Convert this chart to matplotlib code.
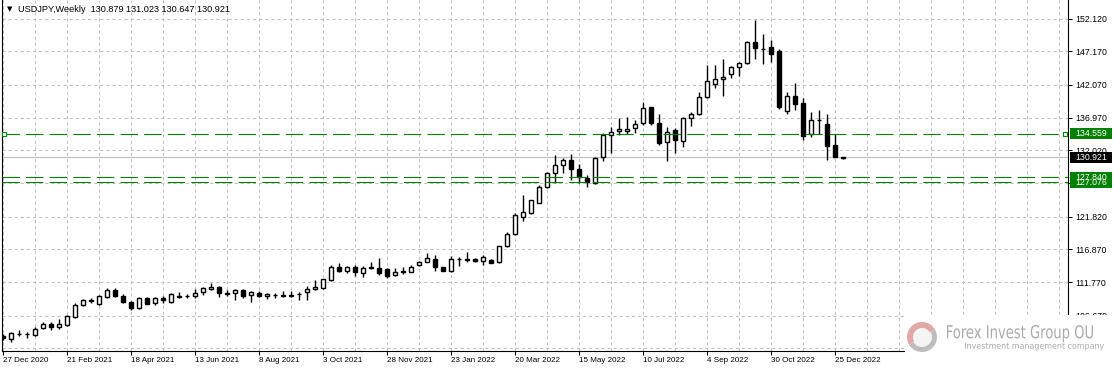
import matplotlib
matplotlib.use("Agg")
import matplotlib.pyplot as plt
from matplotlib.patches import PathPatch, Wedge, Circle, Rectangle
from matplotlib.textpath import TextPath
from matplotlib.font_manager import FontProperties
from matplotlib.transforms import Affine2D, blended_transform_factory

plt.rcParams["font.family"] = ["Liberation Sans", "DejaVu Sans"]
plt.rcParams["lines.scale_dashes"] = False

# USDJPY weekly candles, 27 Dec 2020 .. 1 Jan 2023
opens = [103.55, 103.10, 103.90, 103.80, 103.75, 104.70, 105.40, 104.90, 105.30, 106.40,
         108.30, 109.05, 108.45, 109.50, 110.60, 109.65, 108.80, 107.85, 109.30, 108.55,
         109.40, 108.80, 109.60, 109.60, 109.60, 110.25, 110.75, 111.05, 110.05, 110.10,
         110.60, 109.80, 110.20, 109.60, 109.80, 109.75, 109.70, 109.90, 110.35, 110.70,
         110.85, 112.05, 114.15, 113.55, 114.05, 113.25, 114.10, 113.90, 113.75, 112.85,
         113.50, 113.40, 114.35, 114.95, 115.40, 114.05, 113.55, 115.30, 115.25, 115.30,
         115.05, 115.20, 114.85, 117.35, 119.15, 121.85, 122.45, 123.95, 126.35, 128.45,
         129.75, 130.50, 129.20, 127.80, 126.95, 130.90, 134.35, 134.90, 134.90, 135.35,
         136.15, 138.60, 136.15, 133.20, 135.10, 133.40, 136.90, 137.55, 140.10, 142.10,
         142.85, 143.65, 144.70, 145.35, 148.55, 147.50, 147.80, 147.20, 138.05, 140.30,
         139.20, 134.50, 136.60, 136.00, 132.80, 130.879]
highs = [103.90, 104.10, 104.40, 104.10, 104.95, 105.75, 105.65, 106.20, 106.70, 108.65,
         109.25, 109.40, 109.85, 110.95, 110.95, 109.90, 108.95, 109.55, 109.45, 109.55,
         109.65, 110.20, 110.35, 109.95, 110.70, 111.10, 111.60, 111.20, 110.60, 110.70,
         110.70, 110.45, 110.45, 110.20, 110.10, 110.40, 110.45, 110.25, 111.20, 112.10,
         112.30, 114.45, 114.70, 114.30, 114.45, 114.25, 114.95, 115.45, 114.00, 113.95,
         114.15, 114.40, 115.00, 116.30, 115.95, 114.15, 115.85, 115.60, 116.35, 115.50,
         115.95, 115.30, 117.35, 119.40, 122.45, 125.15, 124.45, 126.65, 128.70, 131.25,
         130.85, 131.40, 129.85, 128.20, 131.00, 134.60, 135.60, 136.90, 137.05, 136.60,
         139.35, 138.70, 137.55, 135.55, 135.35, 137.15, 137.90, 140.95, 145.05, 145.05,
         145.95, 144.95, 145.60, 148.80, 151.95, 149.80, 148.90, 147.45, 140.95, 142.30,
         139.95, 137.80, 138.15, 137.50, 134.50, 131.023]
lows = [102.96, 102.60, 103.50, 103.30, 103.50, 104.55, 104.50, 104.60, 105.00, 106.25,
        108.20, 108.60, 108.35, 109.30, 109.55, 108.55, 107.45, 107.65, 108.40, 108.30,
        108.55, 108.65, 109.30, 109.30, 109.40, 109.80, 110.60, 109.45, 109.60, 109.05,
        109.40, 108.70, 109.55, 109.20, 109.40, 109.50, 109.55, 109.10, 109.10, 110.60,
        110.70, 111.90, 113.40, 113.25, 112.75, 112.65, 113.75, 112.95, 112.45, 112.70,
        113.10, 113.30, 114.30, 114.90, 113.50, 113.50, 113.40, 114.20, 114.90, 114.85,
        114.40, 114.65, 114.80, 117.25, 119.05, 121.20, 122.25, 123.85, 126.20, 126.95,
        128.45, 127.50, 127.05, 126.35, 126.85, 130.40, 131.55, 134.35, 134.55, 134.60,
        135.90, 135.90, 132.75, 130.40, 131.65, 132.55, 135.75, 137.45, 139.95, 141.60,
        140.35, 143.05, 143.45, 145.25, 146.00, 145.20, 145.60, 138.35, 137.60, 138.15,
        133.60, 134.10, 134.50, 130.55, 130.90, 130.647]
closes = [103.24, 103.95, 103.86, 103.77, 104.68, 105.40, 104.90, 105.42, 106.55, 108.30,
          109.05, 108.90, 109.65, 110.65, 109.65, 108.75, 107.85, 109.30, 108.45, 109.30,
          109.05, 109.90, 109.55, 109.65, 110.20, 110.95, 111.10, 110.10, 110.10, 110.60,
          109.65, 110.25, 109.60, 109.90, 109.85, 109.70, 109.85, 109.95, 110.70, 111.10,
          112.25, 114.05, 113.50, 114.05, 113.40, 113.90, 113.95, 113.15, 112.75, 113.30,
          113.30, 114.15, 114.95, 115.45, 114.15, 113.55, 115.35, 115.30, 115.35, 115.10,
          115.60, 114.70, 117.30, 119.15, 122.05, 122.50, 124.40, 126.35, 128.45, 129.75,
          130.50, 129.15, 127.85, 127.20, 130.80, 134.35, 134.85, 135.25, 135.25, 136.00,
          138.45, 136.15, 133.15, 134.85, 133.55, 136.90, 137.60, 140.10, 142.60, 142.85,
          143.30, 144.70, 145.35, 148.65, 147.75, 147.45, 146.70, 138.70, 140.25, 139.05,
          134.25, 136.60, 136.70, 132.70, 131.00, 130.921]

date_labels = ["27 Dec 2020", "21 Feb 2021", "18 Apr 2021", "13 Jun 2021", "8 Aug 2021",
               "3 Oct 2021", "28 Nov 2021", "23 Jan 2022", "20 Mar 2022", "15 May 2022",
               "10 Jul 2022", "4 Sep 2022", "30 Oct 2022", "25 Dec 2022"]
price_ticks = [152.12, 147.17, 142.07, 136.97, 132.02, 126.92, 121.82, 116.87, 111.77,
               106.67, 101.72]
level_lines = [134.559, 127.840, 127.076]
last_price = 130.921

W, H = 1114, 372
GREEN = "#008000"
GRID = "#c0c0c0"

fig = plt.figure(figsize=(W / 100, H / 100), dpi=100)
ax = fig.add_axes([1.5 / W, 21 / H, (1068 - 1.5) / W, (H - 21) / H])
pix = Affine2D().scale(1 / W, 1 / H) + fig.transFigure

idx = list(range(len(opens)))
up = [c >= o for o, c in zip(opens, closes)]

# grid
ax.set_xticks(range(0, 133, 4), minor=True)
ax.set_xticks(range(0, 8 * len(date_labels), 8))
ax.set_xticklabels(date_labels)
ax.set_yticks(price_ticks)
ax.set_yticklabels([f"{v:.3f}" for v in price_ticks])
ax.grid(True, which="both", axis="x", color=GRID, lw=0.75, linestyle=(0, (2.2, 2.2)))
ax.grid(True, which="major", axis="y", color=GRID, lw=0.75, linestyle=(0, (2.2, 2.2)))
ax.set_axisbelow(True)

# bid line
ax.axhline(last_price, color=GRID, lw=0.9, zorder=1)

# candles
ax.vlines(idx, lows, highs, color="black", lw=1.0, zorder=2)
bodies = [max(abs(c - o), 0.02) for o, c in zip(opens, closes)]
bottoms = [min(o, c) for o, c in zip(opens, closes)]
ax.bar(idx, bodies, bottom=bottoms, width=0.6,
       color=["white" if u else "black" for u in up],
       edgecolor="black", linewidth=1.0, zorder=3)

# horizontal levels
for v in level_lines:
    ax.axhline(v, color=GREEN, lw=0.8, linestyle=(0, (12.5, 4.5)), zorder=4)

xmin, xmax = -1.5 / 8, (1068 - 3) / 8
ymin, ymax = 101.24, 155.03
ax.plot([xmin + 0.3, xmax - 0.35], [level_lines[0]] * 2, ls="none", marker="s", ms=3,
        mfc="white", mec=GREEN, mew=0.8, zorder=5, clip_on=False)

ax.set_xlim(xmin, xmax)
ax.set_ylim(ymin, ymax)

for s in ["left", "bottom", "right"]:
    ax.spines[s].set_color("black")
    ax.spines[s].set_linewidth(0.8)
ax.spines["top"].set_visible(False)

ax.tick_params(axis="x", which="major", length=3, width=0.75, pad=1.5, labelsize=5.8)
ax.tick_params(axis="x", which="minor", length=0)
for lab in ax.get_xticklabels():
    lab.set_ha("left")
ax.yaxis.tick_right()
ax.tick_params(axis="y", length=3, width=0.75, pad=2.2, labelsize=6.3)

# price boxes on the right scale
tb = blended_transform_factory(fig.transFigure, ax.transData)
half = 5.5 / 6.525
for v, fc in [(level_lines[0], GREEN), (last_price, "black"),
              (level_lines[1], GREEN), (level_lines[2], GREEN)]:
    ax.add_artist(Rectangle((1069.5 / W, v - half), 42 / W, 2 * half, transform=tb,
                            fc=fc, ec="none", clip_on=False, zorder=10))
    ax.text(1075 / W, v, f"{v:.3f}", transform=tb, color="white", fontsize=6.3,
            va="center", ha="left", clip_on=False, zorder=11)

# title
fig.text(7 / W, 1 - 9.5 / H, "\u25bc", family="DejaVu Sans", fontsize=5, va="center")
fig.text(18.5 / W, 1 - 9.5 / H, "USDJPY,Weekly  130.879 131.023 130.647 130.921",
         fontsize=6.6, va="center", ha="left")

# watermark
fig.add_artist(Rectangle((905, 0), W - 905, H - 315, transform=pix, fc="white",
                         ec="none", zorder=20))
cx, cy = 922, H - 337
fig.add_artist(Circle((cx, cy), 14, transform=pix, fc="#f4f4f4", ec="none", zorder=21))
fig.add_artist(Wedge((cx, cy), 15, 30, 210, width=6, transform=pix, fc="#e2a7a7",
                     ec="none", zorder=22))
fig.add_artist(Wedge((cx, cy), 15, 210, 390, width=5, transform=pix, fc="#bdbdbd",
                     ec="none", zorder=22))


def stretched(s, x0, x1, ytop, ybot, color):
    tp = TextPath((0, 0), s, size=10, prop=FontProperties(family="DejaVu Sans"))
    bb = tp.get_extents()
    tr = (Affine2D().translate(-bb.x0, -bb.y0)
          .scale((x1 - x0) / bb.width, (ybot - ytop) / bb.height)
          .translate(x0, H - ybot) + pix)
    fig.add_artist(PathPatch(tp, transform=tr, fc=color, ec="none", zorder=23))


stretched("Forex Invest Group OU", 947, 1093, 325, 342, "#ababab")
stretched("Investment management company", 965, 1104, 342.5, 350.5, "#a8a8a8")

fig.savefig("out.png", dpi=100)
